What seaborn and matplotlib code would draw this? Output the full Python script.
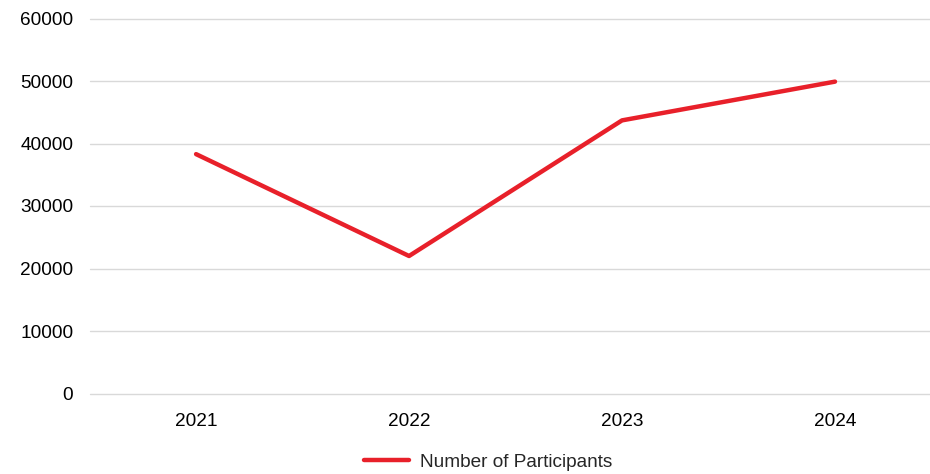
import matplotlib
matplotlib.use("Agg")
import matplotlib.pyplot as plt
import seaborn as sns
import pandas as pd

years = ["2021", "2022", "2023", "2024"]
participants = [38300, 22000, 43700, 49900]
series_name = "Number of Participants"
y_ticks = [0, 10000, 20000, 30000, 40000, 50000, 60000]

sns.set_theme(style="white")
plt.rcParams['font.family'] = ['Liberation Sans', 'DejaVu Sans']

df = pd.DataFrame({"Year": years, series_name: participants})

fig = plt.figure(figsize=(9.3, 4.74), dpi=100)
ax = fig.add_axes([90/930, 80.5/474, 840/930, 375/474])

sns.lineplot(data=df, x="Year", y=series_name, ax=ax, color="#E8202A",
             linewidth=3.2, label=series_name, legend=False, sort=False)

ax.set_ylim(0, 60000)
ax.set_yticks(y_ticks)
ax.set_yticklabels([str(t) for t in y_ticks])
ax.set_xlim(-0.498, 3.446)
ax.grid(axis="y", color="#d9d9d9", linewidth=1)
ax.grid(axis="x", visible=False)
ax.set_axisbelow(True)
for gl in ax.get_ygridlines():
    gl.set_clip_on(False)
for s in ax.spines.values():
    s.set_visible(False)
ax.tick_params(axis="both", length=0, labelsize=13.7, colors="#000000")
ax.tick_params(axis="y", pad=12)
ax.tick_params(axis="x", pad=14)
ax.set_xlabel("")
ax.set_ylabel("")

handles, labels = ax.get_legend_handles_labels()
fig.legend(handles, labels, loc="center", bbox_to_anchor=(488/930, 1 - 462/474),
           frameon=False, fontsize=13.7, handlelength=2.4, handletextpad=0.55)

fig.savefig("out.png", dpi=100)
